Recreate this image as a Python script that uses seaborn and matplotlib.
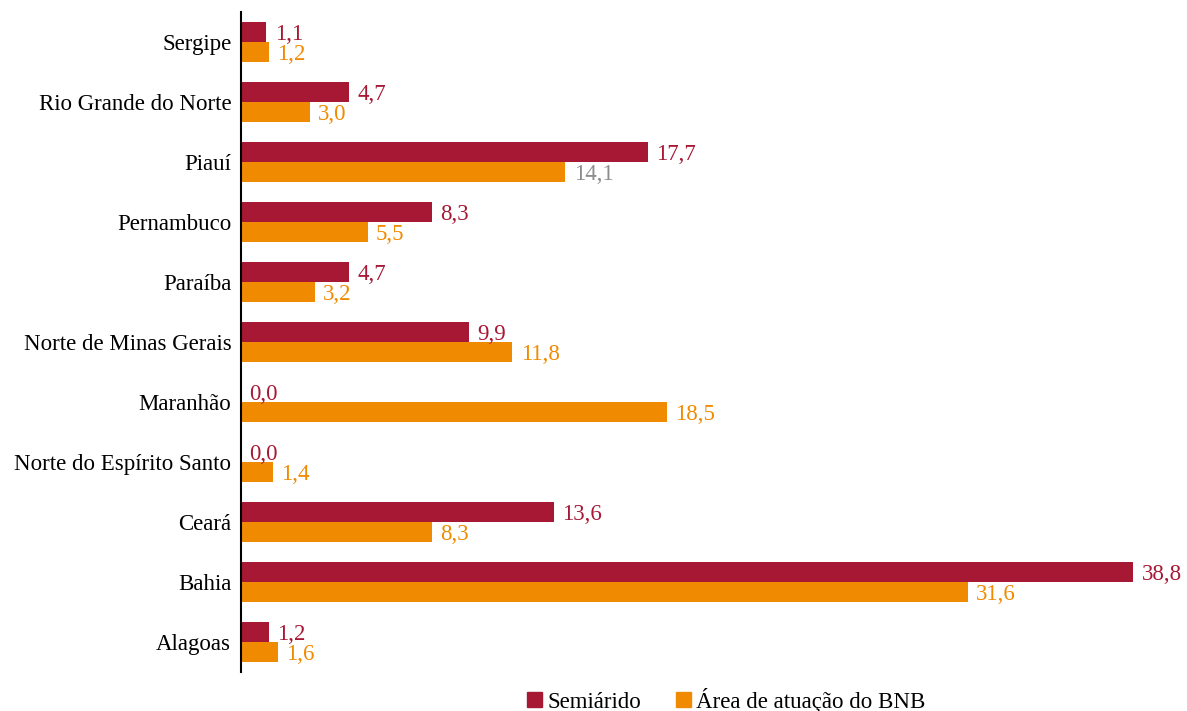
import pandas as pd
import matplotlib.pyplot as plt
import seaborn as sns

# data (% share)
estados = ['Sergipe', 'Rio Grande do Norte', 'Piauí', 'Pernambuco', 'Paraíba',
           'Norte de Minas Gerais', 'Maranhão', 'Norte do Espírito Santo',
           'Ceará', 'Bahia', 'Alagoas']
semiarido = [1.1, 4.7, 17.7, 8.3, 4.7, 9.9, 0.0, 0.0, 13.6, 38.8, 1.2]
area_bnb = [1.2, 3.0, 14.1, 5.5, 3.2, 11.8, 18.5, 1.4, 8.3, 31.6, 1.6]

series_names = ['Semiárido', 'Área de atuação do BNB']
color_map = {'Semiárido': '#A71834', 'Área de atuação do BNB': '#F08A00'}

df = pd.concat([
    pd.DataFrame({'estado': estados, 'valor': semiarido, 'serie': series_names[0]}),
    pd.DataFrame({'estado': estados, 'valor': area_bnb, 'serie': series_names[1]}),
])

sns.set_style('white')
plt.rcParams['font.family'] = ['Liberation Serif', 'DejaVu Serif']
plt.rcParams['text.color'] = 'black'

fig = plt.figure(figsize=(11.87, 7.11), dpi=100)
ax = fig.add_axes([241 / 1187, 1 - 672 / 711, 946 / 1187, 660 / 711])

sns.barplot(data=df, y='estado', x='valor', hue='serie', order=estados,
            hue_order=series_names, palette=color_map, orient='y',
            width=0.667, saturation=1, linewidth=0, ax=ax, legend=False)

# value labels, comma as decimal separator
for container, name in zip(ax.containers, series_names):
    labels = [f'{v:.1f}'.replace('.', ',') for v in container.datavalues]
    texts = ax.bar_label(container, labels=labels, padding=6, fontsize=16.5,
                         color=color_map[name])
    for t in texts:
        t.set_va('center_baseline')
    if name == series_names[1]:
        # the Piauí label is grey in the original
        texts[estados.index('Piauí')].set_color('#8C8C8C')

ax.set_xlim(0, 946 / 23.0)
ax.set_ylim(10.5, -0.5)
ax.set_xlabel('')
ax.set_ylabel('')
ax.set_xticks([])
ax.tick_params(axis='y', length=0, pad=7, labelsize=16.5, labelcolor='black')
for side in ['top', 'right', 'bottom']:
    ax.spines[side].set_visible(False)
ax.spines['left'].set_color('black')
ax.spines['left'].set_linewidth(1.5)

handles = [plt.Rectangle((0, 0), 1, 1, color=color_map[n]) for n in series_names]
fig.legend(handles, series_names, loc='center', bbox_to_anchor=(0.612, 0.015),
           ncol=2, frameon=False, fontsize=16.5, handlelength=0.65, handleheight=0.65,
           handletextpad=0.25, columnspacing=1.5, borderpad=0)

fig.savefig('out.png', dpi=100)
